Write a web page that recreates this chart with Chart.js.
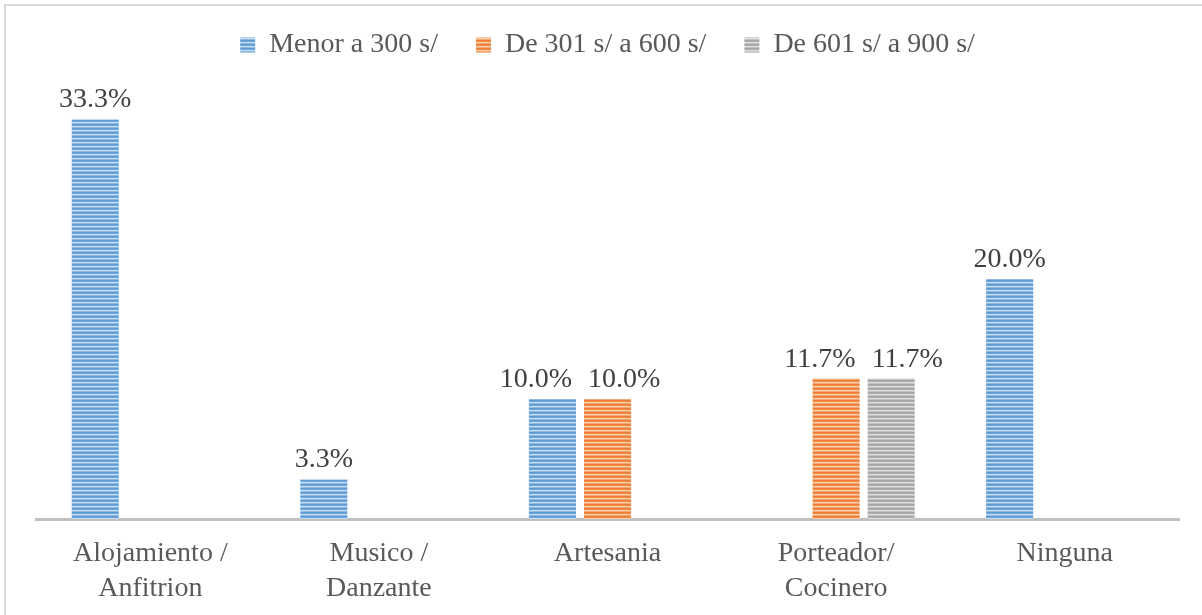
<!DOCTYPE html>
<html><head><meta charset="utf-8">
<script src="https://cdn.jsdelivr.net/npm/chart.js@4.4.0/dist/chart.umd.min.js"></script>
<style>html,body{margin:0;padding:0;background:#fff;} canvas{display:block;}</style>
</head><body>
<canvas id="c" width="1202" height="615"></canvas>
<script>
const categories = [["Alojamiento /","Anfitrion"],["Musico /","Danzante"],"Artesania",["Porteador/","Cocinero"],"Ninguna"];
const seriesNames = ["Menor a 300 s/","De 301 s/ a 600 s/","De 601 s/ a 900 s/"];
const menor300 = [33.3, 3.3, 10.0, null, 20.0];
const de301a600 = [null, null, 10.0, 11.7, null];
const de601a900 = [null, null, null, 11.7, null];

const FONT = '"Liberation Serif", "Times New Roman", serif';
const canvas = document.getElementById('c');
const mainCtx = canvas.getContext('2d');
function stripe(rows){
  const p = document.createElement('canvas'); p.width = 4; p.height = rows.length;
  const g = p.getContext('2d');
  rows.forEach((c,i)=>{ g.fillStyle = c; g.fillRect(0,i,4,1); });
  return mainCtx.createPattern(p,'repeat');
}
const blueP = stripe(['#5B9BD5','#6FA7DA','#C9DDF2','#8DB9E3']);
const orangeP = stripe(['#ED7D31','#EF8B47','#F9CFB2','#F3A872']);
const grayP = stripe(['#A5A5A5','#ADADAD','#DEDEDE','#C2C2C2']);

const framePlugin = {
  id:'frame',
  beforeDraw(chart){
    const ctx = chart.ctx; ctx.save();
    ctx.fillStyle='#fff'; ctx.fillRect(0,0,chart.width,chart.height);
    ctx.strokeStyle='#D9D9D9'; ctx.lineWidth=2;
    ctx.beginPath(); ctx.moveTo(5,615); ctx.lineTo(5,5); ctx.lineTo(1202,5); ctx.stroke();
    ctx.restore();
  }
};
const valueLabels = {
  id:'valueLabels',
  afterDatasetsDraw(chart){
    const ctx = chart.ctx; ctx.save();
    ctx.font = '28px ' + FONT; ctx.fillStyle = '#404040';
    ctx.textAlign = 'center'; ctx.textBaseline = 'alphabetic';
    const n = chart.data.labels.length;
    for (let i=0;i<n;i++){
      const items = [];
      chart.data.datasets.forEach((ds,di)=>{
        const meta = chart.getDatasetMeta(di);
        const v = ds.data[i];
        if (v == null || !meta.visible) return;
        const el = meta.data[i];
        const t = v.toFixed(1) + '%';
        items.push({x:el.x, y:el.y-12, t, w:ctx.measureText(t).width});
      });
      items.sort((a,b)=>a.x-b.x);
      for (let k=1;k<items.length;k++){
        const a=items[k-1], b=items[k];
        const need=(a.w+b.w)/2+16, d=b.x-a.x;
        if (d<need && Math.abs(a.y-b.y)<30){ const s=(need-d)/2; a.x-=s; b.x+=s; }
      }
      items.forEach(it=>ctx.fillText(it.t,it.x,it.y));
    }
    ctx.restore();
  }
};
const legendHeight = {
  id:'legendHeight',
  beforeInit(chart){
    const fit = chart.legend.fit;
    chart.legend.fit = function(){ fit.call(this); this.height = 106; };
  }
};

new Chart(canvas, {
  type:'bar',
  data:{
    labels: categories,
    datasets:[
      {label:seriesNames[0], data:menor300, backgroundColor:blueP, borderWidth:0},
      {label:seriesNames[1], data:de301a600, backgroundColor:orangeP, borderWidth:0},
      {label:seriesNames[2], data:de601a900, backgroundColor:grayP, borderWidth:0}
    ]
  },
  options:{
    responsive:false, animation:false,
    layout:{padding:{top:-7,left:36,right:23,bottom:0}},
    categoryPercentage:0.7225, barPercentage:0.855,
    plugins:{
      legend:{position:'top', labels:{font:{family:FONT,size:28}, color:'#595959', boxWidth:15, boxHeight:15, padding:38}},
      tooltip:{enabled:false}
    },
    scales:{
      x:{
        grid:{display:false, drawTicks:false},
        border:{display:true, color:'#BFBFBF', width:3},
        ticks:{font:{family:FONT,size:28,lineHeight:1.25}, color:'#595959', padding:17, maxRotation:0, autoSkip:false},
        afterFit(scale){ scale.height = 96; }
      },
      y:{display:false, min:0, max:35}
    }
  },
  plugins:[framePlugin, legendHeight, valueLabels]
});
</script>
</body></html>
